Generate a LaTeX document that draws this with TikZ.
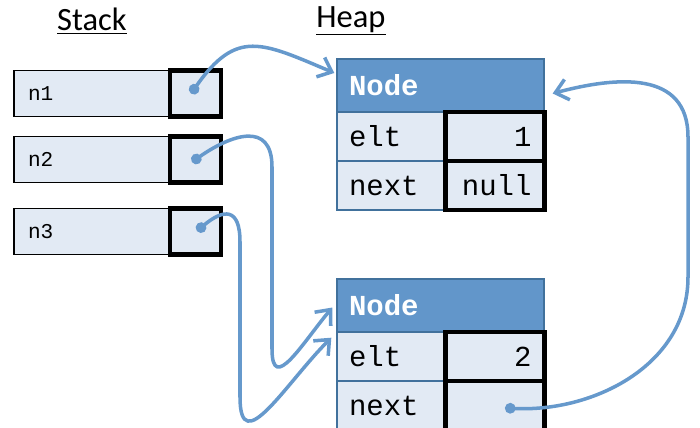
\documentclass[tikz,border=0pt]{standalone}
\usepackage{fontspec}
\newfontfamily\monof{Liberation Mono}
\newfontfamily\titlef{Carlito}
\usetikzlibrary{arrows.meta}
\definecolor{cellfill}{HTML}{E2EAF4}
\definecolor{headfill}{HTML}{6296CA}
\definecolor{heapline}{HTML}{41719C}
\definecolor{ptrcol}{HTML}{6699CC}
\begin{document}
\begin{tikzpicture}[x=0.02cm, y=0.02cm,
  title/.style={font=\titlef\fontsize{18.5}{22}\selectfont},
  namebox/.style={draw, fill=cellfill, line width=0.6pt, minimum width=3.12cm, minimum height=0.92cm,
    inner xsep=0.28cm, inner ysep=0pt, text width=2.56cm, align=left, font=\monof\fontsize{12}{14}\selectfont},
  ptrbox/.style={draw, fill=cellfill, line width=2.4pt, minimum width=1.02cm, minimum height=0.92cm, inner sep=0pt},
  heading/.style={draw=heapline, fill=headfill, line width=0.8pt, minimum width=4.14cm, minimum height=1.06cm,
    inner xsep=0.24cm, inner ysep=0pt, text width=3.66cm, align=left, text=white, font=\monof\bfseries\fontsize{16.5}{20}\selectfont},
  field/.style={draw=heapline, fill=cellfill, line width=0.8pt, minimum width=2.14cm, minimum height=0.98cm,
    inner xsep=0.24cm, inner ysep=0pt, text width=1.66cm, align=left, font=\monof\fontsize{16.5}{20}\selectfont},
  value/.style={draw, fill=cellfill, line width=2.4pt, minimum width=1.98cm, minimum height=0.98cm,
    inner xsep=0.26cm, inner ysep=0pt, text width=1.46cm, align=right, font=\monof\fontsize{16.5}{20}\selectfont},
  ptr/.style={ptrcol, line width=2pt, {Circle[length=6pt]}-{Straight Barb[length=7pt,width=12pt]}}]
\useasboundingbox (0,0) rectangle (700,427);

% stack
\node[title] (stk) at (92,406) {\underline{Stack}};
\node[namebox] (s1) at (92,333.5) {n1};
\node[ptrbox] (p1) at (195.5,333.5) {};
\node[namebox] (s2) at (92,267.5) {n2};
\node[ptrbox] (p2) at (195.5,267.5) {};
\node[namebox] (s3) at (92,195.5) {n3};
\node[ptrbox] (p3) at (195.5,195.5) {};

% heap
\node[title] (hp) at (351,406) {\underline{Heap}};
\node[heading] (h1) at (440.5,341.5) {Node};
\node[field] (e1) at (390.5,290.5) {elt};
\node[field] (x1) at (390.5,241.5) {next};
\node[value] (v1) at (495,290.5) {1};
\node[value] (nx1) at (495,241.5) {null};

\node[heading] (h2) at (440.5,121.5) {Node};
\node[field] (e2) at (390.5,70.5) {elt};
\node[field] (x2) at (390.5,21.5) {next};
\node[value] (v2) at (495,70.5) {2};
\node[value] (nx2) at (495,21.5) {};

% pointers
\draw[ptr] ([xshift=-2.5]p1.center) to[out=55,in=157,looseness=1.4] ([shift={(-2,12.5)}]h1.west);
\draw[ptr] ([shift={(-3.5,-2.5)}]p2.center) to[out=35,in=90,looseness=1.5] (272,260) -- (272,78)
  to[out=-90,in=230,looseness=1.6] ([shift={(-4,-2)}]h2.west);
\draw[ptr] ([shift={(1.5,0.5)}]p3.center) to[out=40,in=90,looseness=2] (240,185) -- (240,30)
  to[out=-90,in=225,looseness=1.5] ([shift={(-5,-5)}]h2.south west);
\draw[ptr] ([shift={(10,-2.5)}]nx2.center) to[out=-3,in=-90] (688,150) -- (688,290)
  to[out=90,in=15,looseness=1.2] ([shift={(8,-8)}]h1.east);
\end{tikzpicture}
\end{document}
